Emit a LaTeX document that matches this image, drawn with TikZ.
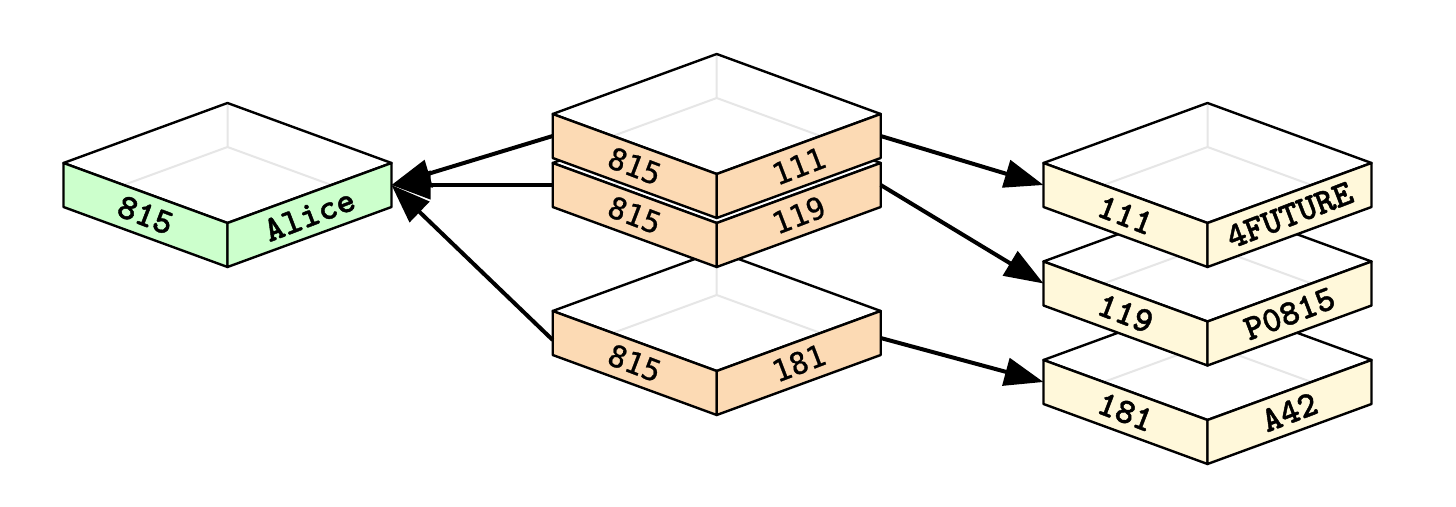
\documentclass[tikz,border=0pt]{standalone}
\usepackage{fontspec}
\usetikzlibrary{arrows.meta}
\newfontfamily\courfont{lmmonolt10-bold}[Extension=.otf,FakeBold=1.2]
\newfontfamily\djmfont{DejaVu Sans Mono}[FakeBold=0.8]
\definecolor{slabgreen}{HTML}{CCFFCC}
\definecolor{slabpeach}{HTML}{FCDAB4}
\definecolor{slabyellow}{HTML}{FFF8DA}
\definecolor{hiddengray}{HTML}{E6E6E6}
\tikzset{
  edge/.style={draw=black,line width=2.4pt,line join=round},
  hiddenedge/.style={draw=hiddengray,line width=2pt},
  arr/.style={line width=4pt,-{Triangle[length=39pt,width=28pt]}},
  courtext/.style={font=\courfont\fontsize{36}{36}\selectfont},
  djmtext/.style={font=\djmfont\fontsize{30}{30}\selectfont},
}
% name, cx, sy, colour, text style, left text, right text
\newcommand\slabbox[7]{%
  \begin{scope}[shift={(#2,#3)}]
    \fill[white] (0,-60) -- (164,0) -- (0,60) -- (-164,0) -- cycle;
    \draw[hiddenedge] (0,-60) -- (0,-16) -- (-164,44) (0,-16) -- (164,44);
    \draw[edge] (0,-60) -- (164,0) -- (0,60) -- (-164,0) -- cycle;
    \draw[edge,fill=#4] (-164,0) -- (0,60) -- (0,104) -- (-164,44) -- cycle;
    \draw[edge,fill=#4] (164,0) -- (0,60) -- (0,104) -- (164,44) -- cycle;
    \node[rotate=-21,#5] (#1-l) at (-82,52) {#6};
    \node[rotate=21,#5] (#1-r) at (82,52) {#7};
    \coordinate (#1-w) at (-164,22);
    \coordinate (#1-e) at (164,22);
  \end{scope}}
\begin{document}
\begin{tikzpicture}[x=1pt,y=-1pt]
  \useasboundingbox[fill=white] (0,0) rectangle (1456,506);
  \slabbox{alice}{227.5}{163}{slabgreen}{courtext}{815}{Alice}
  \slabbox{m3}{716.7}{311}{slabpeach}{djmtext}{815}{181}
  \slabbox{m2}{716.7}{163}{slabpeach}{djmtext}{815}{119}
  \slabbox{m1}{716.7}{114}{slabpeach}{djmtext}{815}{111}
  \slabbox{r3}{1207.5}{360}{slabyellow}{courtext}{181}{A42}
  \slabbox{r2}{1207.5}{261.5}{slabyellow}{courtext}{119}{P0815}
  \slabbox{r1}{1207.5}{163}{slabyellow}{courtext}{111}{4FUTURE}
  \draw[arr] (m1-w) -- (alice-e);
  \draw[arr] (m2-w) -- (alice-e);
  \draw[arr] ([yshift=-7pt]m3-w) -- (alice-e);
  \draw[arr] (m1-e) -- (r1-w);
  \draw[arr] (m2-e) -- (r2-w);
  \draw[arr] ([yshift=-5pt]m3-e) -- (r3-w);
\end{tikzpicture}
\end{document}
